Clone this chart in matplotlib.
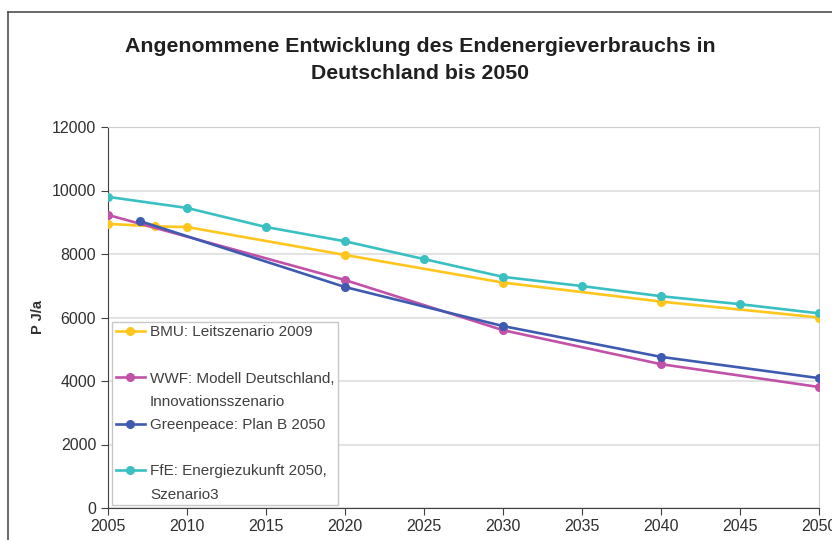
import matplotlib.pyplot as plt
from matplotlib.lines import Line2D

plt.rcParams['font.family'] = ['Liberation Sans', 'DejaVu Sans']

# Endenergieverbrauch in PJ/a
bmu_years = [2005, 2008, 2010, 2020, 2030, 2040, 2050]
bmu_values = [8950, 8870, 8850, 7970, 7100, 6500, 6000]

wwf_years = [2005, 2020, 2030, 2040, 2050]
wwf_values = [9230, 7180, 5600, 4530, 3810]

gp_years = [2007, 2020, 2030, 2040, 2050]
gp_values = [9040, 6960, 5730, 4760, 4090]

ffe_years = [2005, 2010, 2015, 2020, 2025, 2030, 2035, 2040, 2045, 2050]
ffe_values = [9800, 9450, 8850, 8400, 7840, 7280, 6990, 6670, 6420, 6130]

x_ticks = list(range(2005, 2051, 5))
y_ticks = list(range(0, 12001, 2000))

series = [
    ("BMU: Leitszenario 2009", None, bmu_years, bmu_values, "#FFC61E"),
    ("WWF: Modell Deutschland,", "Innovationsszenario", wwf_years, wwf_values, "#C251A8"),
    ("Greenpeace: Plan B 2050", None, gp_years, gp_values, "#3F5BB0"),
    ("FfE: Energiezukunft 2050,", "Szenario3", ffe_years, ffe_values, "#3BC0C2"),
]

fig = plt.figure(figsize=(8.32, 5.4), dpi=100)
ax = fig.add_axes([108 / 832, 32 / 540, 711 / 832, 381 / 540])

handles = []
labels = []
for label, label2, xs, ys, color in series:
    line, = ax.plot(xs, ys, color=color, linewidth=1.9, marker="o",
                    markersize=5.5, zorder=3)
    handles.append(line)
    labels.append(label)
    # second line of the label / spacer row
    handles.append(Line2D([], [], linestyle="none"))
    labels.append(label2 if label2 else " ")

ax.set_xlim(2005, 2050)
ax.set_ylim(0, 12000)
ax.set_xticks(x_ticks)
ax.set_yticks(y_ticks)
ax.grid(axis="y", color="#e3e3e3", linewidth=1.5)
ax.set_axisbelow(True)

for side in ["top", "right"]:
    ax.spines[side].set_color("#cfcfcf")
for side in ["left", "bottom"]:
    ax.spines[side].set_color("#404040")

ax.tick_params(axis="both", direction="out", length=5, color="#404040",
               labelsize=11.5, labelcolor="#303030")
ax.tick_params(axis="x", pad=3)

ax.set_ylabel("P J/a", fontsize=10.5, fontweight="bold", color="#303030",
              labelpad=5)

fig.text(0.505, 0.889, "Angenommene Entwicklung des Endenergieverbrauchs in\nDeutschland bis 2050",
         ha="center", va="center", fontsize=15.3, fontweight="bold",
         color="#202020", linespacing=1.55)

leg = ax.legend(handles, labels, loc="lower left",
                bbox_to_anchor=(0.006, 0.008), borderaxespad=0,
                fontsize=11, labelspacing=0.6, handlelength=1.9,
                handletextpad=0.35, borderpad=0.22, fancybox=False,
                framealpha=1, edgecolor="#c8c8c8", numpoints=1,
                labelcolor="#404040")
leg.get_frame().set_linewidth(1.0)

# outer frame of the figure
fig.add_artist(Line2D([8 / 832, 8 / 832], [0, 1 - 12 / 540],
                      transform=fig.transFigure, color="#505050", linewidth=1.2))
fig.add_artist(Line2D([8 / 832, 1], [1 - 12 / 540, 1 - 12 / 540],
                      transform=fig.transFigure, color="#505050", linewidth=1.2))

fig.savefig("out.png", dpi=100)
